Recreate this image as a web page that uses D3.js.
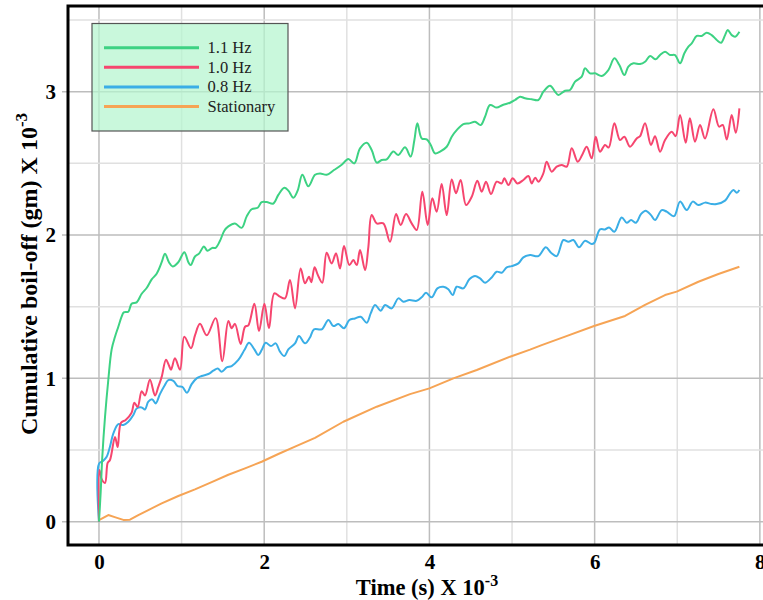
<!DOCTYPE html>
<html><head><meta charset="utf-8">
<script src="https://cdn.jsdelivr.net/npm/d3@7"></script>
<style>body{margin:0;background:#fff}svg{display:block}</style>
</head><body><svg id="c" width="763" height="600"></svg>
<script>
const seriesNames = ["1.1 Hz","1.0 Hz","0.8 Hz","Stationary"];
const seriesColors = ["#3dd283","#f6466f","#3aaee6","#f6a455"];
const xTicks = [0,2,4,6,8];
const yTicks = [0,1,2,3];
const hz11 = [[0,0],[0.02,0.2],[0.04,0.45],[0.073,0.73],[0.113,0.99],[0.153,1.20],[0.194,1.29],[0.234,1.36],[0.274,1.43],[0.30,1.46],[0.355,1.465],[0.395,1.52],[0.456,1.53],[0.517,1.59],[0.577,1.63],[0.638,1.69],[0.698,1.73],[0.759,1.81],[0.799,1.87],[0.847,1.81],[0.892,1.78],[0.960,1.81],[1.033,1.88],[1.082,1.81],[1.110,1.79],[1.162,1.85],[1.211,1.87],[1.271,1.92],[1.312,1.89],[1.372,1.91],[1.412,1.91],[1.465,1.96],[1.517,2.03],[1.566,2.06],[1.646,2.08],[1.727,2.05],[1.788,2.13],[1.848,2.18],[1.921,2.19],[1.969,2.23],[2.030,2.23],[2.111,2.22],[2.171,2.28],[2.244,2.33],[2.292,2.31],[2.353,2.26],[2.405,2.31],[2.462,2.42],[2.534,2.34],[2.615,2.42],[2.676,2.43],[2.756,2.42],[2.837,2.45],[2.938,2.49],[3.018,2.53],[3.091,2.50],[3.160,2.605],[3.241,2.644],[3.301,2.593],[3.362,2.505],[3.422,2.523],[3.483,2.528],[3.563,2.582],[3.624,2.558],[3.705,2.612],[3.773,2.547],[3.818,2.663],[3.854,2.779],[3.907,2.674],[3.967,2.667],[4.016,2.628],[4.068,2.570],[4.129,2.582],[4.209,2.616],[4.270,2.686],[4.330,2.732],[4.411,2.774],[4.483,2.779],[4.552,2.790],[4.620,2.767],[4.673,2.825],[4.734,2.907],[4.814,2.889],[4.887,2.907],[4.976,2.923],[5.036,2.942],[5.097,2.965],[5.157,2.954],[5.238,2.947],[5.319,2.942],[5.379,3.000],[5.460,3.042],[5.521,3.000],[5.561,2.977],[5.642,3.007],[5.702,3.012],[5.763,3.070],[5.844,3.105],[5.884,3.163],[5.944,3.128],[6.005,3.128],[6.086,3.110],[6.166,3.151],[6.239,3.233],[6.299,3.186],[6.360,3.116],[6.408,3.175],[6.469,3.198],[6.549,3.193],[6.610,3.209],[6.671,3.249],[6.739,3.226],[6.792,3.256],[6.852,3.279],[6.913,3.256],[6.973,3.256],[7.034,3.198],[7.086,3.268],[7.135,3.314],[7.175,3.337],[7.236,3.389],[7.296,3.389],[7.357,3.412],[7.417,3.395],[7.478,3.361],[7.531,3.342],[7.579,3.395],[7.611,3.430],[7.659,3.395],[7.700,3.384],[7.752,3.419]];
const hz10 = [[0,0],[0.005,0.36],[0.03,0.30],[0.073,0.27],[0.105,0.41],[0.133,0.43],[0.194,0.59],[0.226,0.52],[0.266,0.69],[0.323,0.71],[0.395,0.76],[0.428,0.83],[0.468,0.80],[0.517,0.91],[0.557,0.88],[0.617,0.99],[0.678,0.88],[0.718,0.94],[0.759,1.01],[0.811,1.13],[0.847,1.09],[0.872,1.06],[0.920,1.14],[0.981,1.06],[1.033,1.29],[1.114,1.21],[1.162,1.30],[1.223,1.38],[1.304,1.30],[1.412,1.42],[1.493,1.12],[1.566,1.40],[1.606,1.35],[1.646,1.38],[1.715,1.24],[1.768,1.36],[1.808,1.37],[1.881,1.52],[1.937,1.33],[2.002,1.52],[2.058,1.35],[2.123,1.593],[2.19,1.57],[2.252,1.558],[2.312,1.686],[2.373,1.488],[2.441,1.767],[2.494,1.663],[2.542,1.709],[2.57,1.67],[2.610,1.775],[2.65,1.72],[2.703,1.667],[2.756,1.876],[2.817,1.802],[2.869,1.872],[2.918,1.767],[2.966,1.923],[3.031,1.790],[3.079,1.825],[3.12,1.79],[3.160,1.895],[3.221,1.756],[3.261,1.918],[3.301,2.139],[3.362,2.081],[3.442,2.081],[3.523,1.953],[3.596,2.146],[3.652,2.070],[3.717,2.146],[3.785,2.081],[3.846,2.035],[3.914,2.302],[3.979,2.070],[4.035,2.256],[4.088,2.163],[4.148,2.356],[4.209,2.139],[4.270,2.388],[4.322,2.291],[4.378,2.384],[4.443,2.209],[4.512,2.267],[4.580,2.379],[4.633,2.302],[4.685,2.372],[4.746,2.286],[4.814,2.372],[4.875,2.360],[4.907,2.396],[4.956,2.349],[5.008,2.396],[5.065,2.360],[5.137,2.384],[5.198,2.412],[5.238,2.360],[5.28,2.40],[5.319,2.372],[5.379,2.430],[5.419,2.512],[5.480,2.442],[5.541,2.477],[5.601,2.489],[5.662,2.477],[5.723,2.605],[5.795,2.512],[5.85,2.56],[5.904,2.616],[5.964,2.535],[6.013,2.686],[6.065,2.581],[6.126,2.628],[6.17,2.61],[6.239,2.779],[6.307,2.663],[6.360,2.686],[6.428,2.616],[6.509,2.674],[6.55,2.69],[6.610,2.779],[6.682,2.628],[6.731,2.690],[6.792,2.581],[6.852,2.663],[6.933,2.721],[6.98,2.69],[7.034,2.837],[7.102,2.644],[7.153,2.814],[7.215,2.651],[7.276,2.768],[7.336,2.674],[7.437,2.877],[7.506,2.756],[7.550,2.768],[7.599,2.667],[7.659,2.837],[7.708,2.714],[7.752,2.884]];
const hz08 = [[0,0],[0.002,0.406],[0.052,0.425],[0.093,0.453],[0.133,0.523],[0.174,0.616],[0.234,0.681],[0.295,0.674],[0.355,0.697],[0.416,0.744],[0.456,0.790],[0.517,0.797],[0.557,0.783],[0.597,0.837],[0.646,0.853],[0.686,0.825],[0.738,0.890],[0.791,0.946],[0.839,0.988],[0.900,0.983],[0.952,0.946],[1.009,0.941],[1.065,0.900],[1.122,0.960],[1.182,1.000],[1.243,1.016],[1.324,1.030],[1.384,1.053],[1.437,1.069],[1.485,1.046],[1.546,1.076],[1.606,1.086],[1.687,1.128],[1.760,1.197],[1.816,1.248],[1.881,1.202],[1.929,1.163],[1.969,1.197],[2.018,1.248],[2.082,1.225],[2.139,1.244],[2.191,1.186],[2.244,1.155],[2.292,1.202],[2.373,1.244],[2.421,1.295],[2.494,1.244],[2.554,1.285],[2.603,1.342],[2.696,1.342],[2.777,1.407],[2.837,1.365],[2.898,1.379],[2.966,1.349],[3.031,1.407],[3.099,1.418],[3.168,1.430],[3.241,1.388],[3.289,1.453],[3.342,1.512],[3.410,1.472],[3.463,1.512],[3.543,1.488],[3.624,1.558],[3.684,1.535],[3.757,1.546],[3.846,1.541],[3.906,1.565],[3.959,1.597],[4.027,1.565],[4.096,1.628],[4.169,1.639],[4.229,1.621],[4.282,1.581],[4.330,1.639],[4.411,1.628],[4.483,1.691],[4.552,1.714],[4.613,1.697],[4.673,1.667],[4.754,1.704],[4.814,1.744],[4.875,1.737],[4.936,1.774],[4.996,1.783],[5.077,1.802],[5.137,1.844],[5.218,1.860],[5.319,1.853],[5.408,1.914],[5.472,1.876],[5.541,1.853],[5.622,1.965],[5.682,1.953],[5.743,1.965],[5.811,1.914],[5.884,1.960],[5.964,1.937],[5.997,1.946],[6.065,2.039],[6.126,2.039],[6.175,2.053],[6.239,2.023],[6.327,2.123],[6.388,2.086],[6.441,2.104],[6.501,2.086],[6.561,2.146],[6.617,2.170],[6.682,2.139],[6.731,2.104],[6.812,2.174],[6.872,2.163],[6.961,2.132],[7.034,2.233],[7.115,2.174],[7.187,2.233],[7.256,2.209],[7.336,2.226],[7.417,2.216],[7.477,2.216],[7.578,2.240],[7.639,2.291],[7.680,2.314],[7.720,2.295],[7.752,2.314]];
const stationary = [[0,0.01],[0.113,0.046],[0.2,0.03],[0.295,0.012],[0.375,0.014],[0.476,0.046],[0.597,0.081],[0.759,0.128],[0.960,0.179],[1.162,0.225],[1.364,0.276],[1.566,0.327],[1.768,0.372],[1.969,0.418],[2.171,0.472],[2.373,0.523],[2.615,0.585],[2.958,0.697],[3.362,0.802],[3.765,0.890],[3.999,0.930],[4.290,1.000],[4.573,1.058],[4.976,1.151],[5.218,1.200],[5.359,1.232],[5.642,1.291],[5.993,1.365],[6.368,1.435],[6.610,1.512],[6.852,1.581],[6.993,1.605],[7.256,1.674],[7.498,1.728],[7.752,1.779]];
const seriesData = [hz11, hz10, hz08, stationary];

const svg = d3.select("#c");
const L=68, R=764, T=6, B=545;
const x = d3.scaleLinear().domain([-0.375, 8.05]).range([L, R]);
const y = d3.scaleLinear().domain([-0.163, 3.598]).range([B, T]);
const serif = "'Liberation Serif','Times New Roman',serif";

// grid
const g = svg.append("g");
g.selectAll("line.vx").data(d3.range(0, 9)).join("line")
  .attr("x1", d=>x(d)).attr("x2", d=>x(d)).attr("y1", T).attr("y2", B)
  .attr("stroke", d=>d%2===0?"#bdbdbd":"#e0e0e0").attr("stroke-width", 1.5);
g.selectAll("line.hy").data(d3.range(0, 3.51, 0.5)).join("line")
  .attr("x1", d=>d%1===0?L-6:L).attr("x2", R).attr("y1", d=>y(d)).attr("y2", d=>y(d))
  .attr("stroke", d=>d%1===0?"#bdbdbd":"#e0e0e0").attr("stroke-width", 1.5);

// series
const line = d3.line().x(d=>x(d[0])).y(d=>y(d[1])).curve(d3.curveCatmullRom.alpha(0.5));
const straight = d3.line().x(d=>x(d[0])).y(d=>y(d[1]));
[3,2,1,0].forEach(i=>{
  svg.append("path").datum(seriesData[i])
    .attr("d", i===3 ? straight : line)
    .attr("fill","none").attr("stroke", seriesColors[i]).attr("stroke-width", 2)
    .attr("stroke-linejoin","round");
});

// frame
svg.append("path").attr("d", `M${R+5},${T}H${L}V${B}H${R+5}`)
  .attr("fill","none").attr("stroke","#000").attr("stroke-width",3);

// tick labels
const xAxis = svg.append("g").attr("transform", `translate(0,${B})`)
  .call(d3.axisBottom(x).tickValues(xTicks).tickSize(0).tickPadding(9).tickFormat(d3.format("d")));
xAxis.select(".domain").remove();
xAxis.selectAll("text").attr("font-family", serif).attr("font-weight","bold").attr("font-size", 21).attr("fill","#000");
const yAxis = svg.append("g").attr("transform", `translate(${L},0)`)
  .call(d3.axisLeft(y).tickValues(yTicks).tickSize(0).tickPadding(12).tickFormat(d3.format("d")));
yAxis.select(".domain").remove();
yAxis.selectAll("text").attr("font-family", serif).attr("font-weight","bold").attr("font-size", 21).attr("fill","#000");

// axis titles
const xt = svg.append("text").attr("x", 427).attr("y", 595).attr("text-anchor","middle")
  .attr("font-family", serif).attr("font-weight","bold").attr("font-size", 22.5);
xt.append("tspan").text("Time (s) X 10");
xt.append("tspan").attr("dy", -9).attr("font-size", 16).text("-3");
const yt = svg.append("text").attr("transform", "translate(37,274) rotate(-90)").attr("text-anchor","middle")
  .attr("font-family", serif).attr("font-weight","bold").attr("font-size", 24);
yt.append("tspan").text("Cumulative boil-off (gm) X 10");
yt.append("tspan").attr("dy", -10).attr("font-size", 17).text("-3");

// legend
const lg = svg.append("g");
lg.append("rect").attr("x", 92).attr("y", 23.5).attr("width", 196).attr("height", 107.5)
  .attr("fill", "#b4f5cf").attr("fill-opacity", 0.72).attr("stroke", "#555").attr("stroke-width", 1.2);
seriesNames.forEach((n,i)=>{
  const yy = 47.7 + i*19.6;
  lg.append("line").attr("x1",104).attr("x2",199).attr("y1",yy).attr("y2",yy)
    .attr("stroke", seriesColors[i]).attr("stroke-width", 3);
  lg.append("text").attr("x", 207.5).attr("y", yy+5.5).text(n)
    .attr("font-family", serif).attr("font-size", 16.5).attr("fill","#222");
});
</script></body></html>
